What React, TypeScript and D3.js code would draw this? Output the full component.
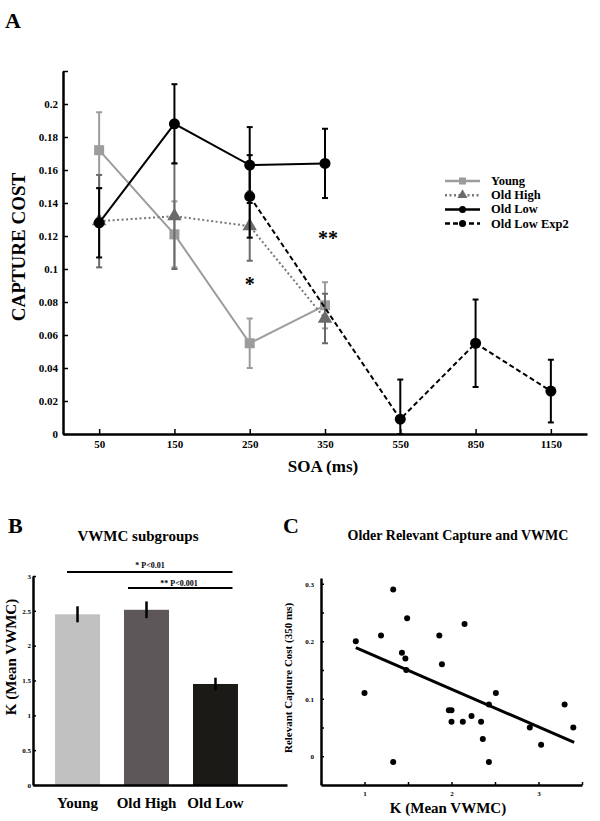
import React, { useEffect, useRef } from 'react';
import * as d3 from 'd3';

// Panel A: capture cost by SOA
const soaLabels = ['50', '150', '250', '350', '550', '850', '1150'];
const youngSoa = ['50', '150', '250', '350'];
const youngCost = [0.172, 0.121, 0.055, 0.078];
const youngErr = [0.023, 0.02, 0.015, 0.014];
const oldHighSoa = ['50', '150', '250', '350'];
const oldHighCost = [0.129, 0.132, 0.126, 0.07];
const oldHighErr = [0.028, 0.032, 0.021, 0.015];
const oldLowSoa = ['50', '150', '250', '350'];
const oldLowCost = [0.128, 0.188, 0.163, 0.164];
const oldLowErr = [0.021, 0.024, 0.023, 0.021];
const exp2Soa = ['250', '550', '850', '1150'];
const exp2Cost = [0.144, 0.009, 0.055, 0.026];
const exp2Err = [0.025, 0.024, 0.0265, 0.019];
const costTicks = [0, 0.02, 0.04, 0.06, 0.08, 0.1, 0.12, 0.14, 0.16, 0.18, 0.2, 0.22];

// Panel B: VWMC subgroups
const groups = ['Young', 'Old High', 'Old Low'];
const groupK = [2.45, 2.515, 1.45];
const groupErr = [0.115, 0.12, 0.09];
const groupColors = ['#c1c1c1', '#5e5759', '#1c1a17'];
const kTicks = [0, 0.5, 1, 1.5, 2, 2.5, 3];

// Panel C: scatter
const scatterK = [0.9, 1.19, 1.0, 1.33, 1.43, 1.49, 1.47, 1.48, 1.33, 1.86, 1.89, 2.15, 1.97, 2.0, 2.0, 2.13, 2.23, 2.34, 2.36, 2.43, 2.51, 2.43, 2.9, 3.03, 3.3, 3.4];
const scatterCost = [0.2, 0.21, 0.11, 0.29, 0.18, 0.24, 0.17, 0.15, -0.01, 0.21, 0.16, 0.23, 0.08, 0.08, 0.06, 0.06, 0.07, 0.06, 0.03, 0.09, 0.11, -0.01, 0.05, 0.02, 0.09, 0.05];
const fitK = [0.9, 3.41];
const fitCost = [0.189, 0.024];
const scatterXTicks = [0.5, 1, 1.5, 2, 2.5, 3, 3.5];
const scatterYTicks = [0, 0.05, 0.1, 0.15, 0.2, 0.25, 0.3];

const FONT = '"Liberation Serif", "Times New Roman", serif';

const App = () => {
  const svgRef = useRef<SVGSVGElement>(null);

  useEffect(() => {
    const svg = d3.select(svgRef.current);
    svg.selectAll('*').remove();
    svg.attr('font-family', FONT).attr('font-weight', 'bold');

    const styleAxis = (g: any, fs: number) => {
      g.attr('font-family', FONT);
      g.select('.domain').attr('stroke', '#000').attr('stroke-width', 2.5);
      g.selectAll('.tick line').attr('stroke', '#000').attr('stroke-width', 1.5);
      g.selectAll('.tick text')
        .attr('font-family', FONT)
        .attr('font-weight', 'bold')
        .attr('font-size', fs)
        .attr('fill', '#000');
    };

    // ---------- Panel A ----------
    const xA = d3.scalePoint().domain(soaLabels).range([63, 587]).padding(0.48);
    const yA = d3.scaleLinear().domain([0, 0.22]).range([434, 71]);

    const axA = svg.append('g').attr('transform', 'translate(0,434)')
      .call(d3.axisBottom(xA).tickSize(-5).tickSizeOuter(0).tickPadding(6));
    styleAxis(axA, 11);
    const ayA = svg.append('g').attr('transform', 'translate(63,0)')
      .call(d3.axisLeft(yA).tickValues(costTicks).tickSize(-5).tickSizeOuter(0).tickPadding(5)
        .tickFormat((d: any) => (d > 0.21 ? '' : String(+(+d).toFixed(2)))));
    styleAxis(ayA, 11);

    const series = [
      { soa: youngSoa, v: youngCost, e: youngErr, color: '#9c9c9c', dash: null, marker: 'square', mcolor: '#9c9c9c' },
      { soa: oldHighSoa, v: oldHighCost, e: oldHighErr, color: '#777', dash: '2,2.5', marker: 'triangle', mcolor: '#6a6a6a' },
      { soa: oldLowSoa, v: oldLowCost, e: oldLowErr, color: '#000', dash: null, marker: 'circle', mcolor: '#000' },
      { soa: exp2Soa, v: exp2Cost, e: exp2Err, color: '#000', dash: '5,3', marker: 'circle', mcolor: '#000' },
    ];

    const line = d3.line<[string, number]>().x((d) => xA(d[0]) as number).y((d) => yA(d[1]));

    const drawMarker = (g: any, type: string, cx: number, cy: number, color: string, size: number) => {
      if (type === 'square') {
        g.append('rect').attr('x', cx - size / 2).attr('y', cy - size / 2)
          .attr('width', size).attr('height', size).attr('fill', color);
      } else if (type === 'triangle') {
        const sym = d3.symbol().type(d3.symbolTriangle).size(size * size * 0.9);
        g.append('path').attr('d', sym()).attr('transform', `translate(${cx},${cy})`).attr('fill', color);
      } else {
        g.append('circle').attr('cx', cx).attr('cy', cy).attr('r', size / 2).attr('fill', color);
      }
    };

    series.forEach((s) => {
      const g = svg.append('g');
      const pts = s.soa.map((k, i) => [k, s.v[i]] as [string, number]);
      // error bars
      s.soa.forEach((k, i) => {
        const cx = xA(k) as number;
        const top = yA(s.v[i] + s.e[i]);
        const bot = yA(Math.max(0, s.v[i] - s.e[i]));
        g.append('line').attr('x1', cx).attr('x2', cx).attr('y1', top).attr('y2', bot)
          .attr('stroke', s.mcolor).attr('stroke-width', 2);
        [top, bot].forEach((yy) => {
          g.append('line').attr('x1', cx - 3).attr('x2', cx + 3).attr('y1', yy).attr('y2', yy)
            .attr('stroke', s.mcolor).attr('stroke-width', 2);
        });
      });
      g.append('path').attr('d', line(pts)).attr('fill', 'none')
        .attr('stroke', s.color).attr('stroke-width', 2)
        .attr('stroke-dasharray', s.dash);
      pts.forEach(([k, v]) => {
        drawMarker(g, s.marker, xA(k) as number, yA(v), s.mcolor, s.marker === 'circle' ? 11 : 10);
      });
    });

    svg.append('text').attr('x', xA('250') as number).attr('y', 291).attr('text-anchor', 'middle')
      .attr('font-size', 20).text('*');
    svg.append('text').attr('x', (xA('350') as number) + 3).attr('y', 245).attr('text-anchor', 'middle')
      .attr('font-size', 20).text('**');

    // legend
    const legNames = ['Young', 'Old High', 'Old Low', 'Old Low Exp2'];
    legNames.forEach((n, i) => {
      const s = series[i];
      const yy = 181 + i * 14.2;
      svg.append('line').attr('x1', 445).attr('x2', 480).attr('y1', yy).attr('y2', yy)
        .attr('stroke', s.color).attr('stroke-width', 2.5).attr('stroke-dasharray', s.dash);
      drawMarker(svg, s.marker, 462.5, yy, s.mcolor, 7);
      svg.append('text').attr('x', 491).attr('y', yy + 4).attr('font-size', 12.5).text(n);
    });

    svg.append('text').attr('x', 5).attr('y', 28).attr('font-size', 22).text('A');
    svg.append('text').attr('transform', 'translate(25,247) rotate(-90)').attr('text-anchor', 'middle')
      .attr('font-size', 19).text('CAPTURE COST');
    svg.append('text').attr('x', 323).attr('y', 472).attr('text-anchor', 'middle')
      .attr('font-size', 17).text('SOA (ms)');

    // ---------- Panel B ----------
    const xB = d3.scaleBand().domain(groups).range([33, 287])
      .paddingInner(0.348).paddingOuter(0.515).align(0.31);
    const yB = d3.scaleLinear().domain([0, 3]).range([785, 576]);

    groups.forEach((gname, i) => {
      svg.append('rect').attr('x', xB(gname) as number).attr('y', yB(groupK[i]))
        .attr('width', xB.bandwidth()).attr('height', yB(0) - yB(groupK[i]))
        .attr('fill', groupColors[i]);
      const cx = (xB(gname) as number) + xB.bandwidth() / 2;
      svg.append('line').attr('x1', cx).attr('x2', cx)
        .attr('y1', yB(groupK[i] + groupErr[i])).attr('y2', yB(groupK[i] - groupErr[i]))
        .attr('stroke', '#000').attr('stroke-width', 2.5);
    });

    const axB = svg.append('g').attr('transform', 'translate(0,785)')
      .call(d3.axisBottom(xB).tickSize(0).tickSizeOuter(0).tickPadding(12));
    styleAxis(axB, 15);
    const ayB = svg.append('g').attr('transform', 'translate(33,0)')
      .call(d3.axisLeft(yB).tickValues(kTicks).tickSize(-3).tickSizeOuter(0).tickPadding(2)
        .tickFormat((d: any) => String(d)));
    styleAxis(ayB, 7);

    // significance bars
    const xs = (g: string) => (xB(g) as number) + xB.bandwidth() / 2;
    svg.append('line').attr('x1', 67).attr('x2', xs('Old Low') + 17).attr('y1', 572).attr('y2', 572)
      .attr('stroke', '#000').attr('stroke-width', 2);
    svg.append('text').attr('x', 150).attr('y', 568).attr('text-anchor', 'middle').attr('font-size', 8)
      .text('* P<0.01');
    svg.append('line').attr('x1', 128).attr('x2', xs('Old Low') + 17).attr('y1', 588).attr('y2', 588)
      .attr('stroke', '#000').attr('stroke-width', 2);
    svg.append('text').attr('x', 179).attr('y', 586).attr('text-anchor', 'middle').attr('font-size', 8)
      .text('** P<0.001');

    svg.append('text').attr('x', 8).attr('y', 533).attr('font-size', 22).text('B');
    svg.append('text').attr('x', 138).attr('y', 541).attr('text-anchor', 'middle').attr('font-size', 15)
      .text('VWMC subgroups');
    svg.append('text').attr('transform', 'translate(16,657) rotate(-90)').attr('text-anchor', 'middle')
      .attr('font-size', 15).text('K (Mean VWMC)');

    // ---------- Panel C ----------
    const xC = d3.scaleLinear().domain([0.5, 3.5]).range([321, 582]);
    const yC = d3.scaleLinear().domain([-0.05, 0.31]).range([785, 578]);

    const axC = svg.append('g').attr('transform', 'translate(0,785)')
      .call(d3.axisBottom(xC).tickValues(scatterXTicks).tickSize(-3).tickSizeOuter(0).tickPadding(6)
        .tickFormat((d: any) => (Number.isInteger(d) ? String(d) : '')));
    styleAxis(axC, 7);
    const ayC = svg.append('g').attr('transform', 'translate(321,0)')
      .call(d3.axisLeft(yC).tickValues(scatterYTicks).tickSize(-3).tickSizeOuter(0).tickPadding(7)
        .tickFormat((d: any) => (Math.abs(d * 10 - Math.round(d * 10)) < 1e-6 ? String(+(+d).toFixed(1)) : '')));
    styleAxis(ayC, 7);

    scatterK.forEach((k, i) => {
      svg.append('circle').attr('cx', xC(k)).attr('cy', yC(scatterCost[i])).attr('r', 3).attr('fill', '#000');
    });
    svg.append('line').attr('x1', xC(fitK[0])).attr('y1', yC(fitCost[0]))
      .attr('x2', xC(fitK[1])).attr('y2', yC(fitCost[1]))
      .attr('stroke', '#000').attr('stroke-width', 3);

    svg.append('text').attr('x', 283).attr('y', 533).attr('font-size', 22).text('C');
    svg.append('text').attr('x', 458).attr('y', 540).attr('text-anchor', 'middle').attr('font-size', 14)
      .text('Older Relevant Capture and VWMC');
    svg.append('text').attr('transform', 'translate(292,678) rotate(-90)').attr('text-anchor', 'middle')
      .attr('font-size', 11).text('Relevant Capture Cost (350 ms)');
    svg.append('text').attr('x', 448).attr('y', 813).attr('text-anchor', 'middle').attr('font-size', 15)
      .text('K (Mean VWMC)');
  }, []);

  return (
    <svg
      ref={svgRef}
      width={600}
      height={821}
      style={{ position: 'absolute', left: 0, top: 0, background: '#fff' }}
    />
  );
};

export default App;
